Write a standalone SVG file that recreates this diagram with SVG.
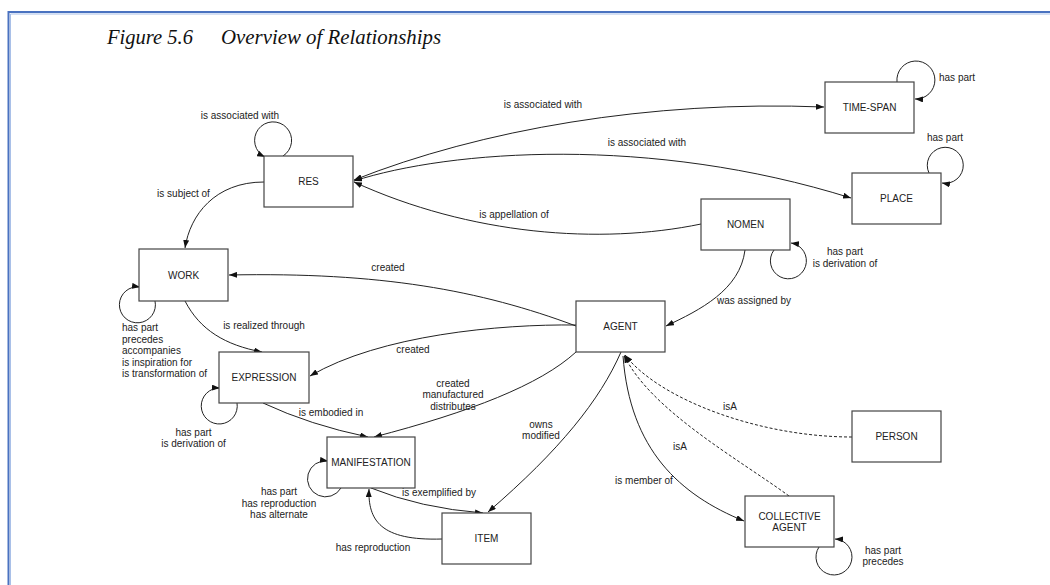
<svg xmlns="http://www.w3.org/2000/svg" width="1050" height="585" viewBox="0 0 1050 585">
<style>
.box{fill:#fff;stroke:#444;stroke-width:1.2}
.nt{font-family:"Liberation Sans",Arial,sans-serif;font-size:10px;fill:#222;text-anchor:middle}
.lb{font-family:"Liberation Sans",Arial,sans-serif;font-size:10px;fill:#222}
.m{text-anchor:middle}
.c{fill:none;stroke:#222;stroke-width:1}
.d{fill:none;stroke:#222;stroke-width:1;stroke-dasharray:3,2}
.title{font-family:"Liberation Serif","Times New Roman",serif;font-style:italic;font-size:22px;fill:#111}
</style>
<defs>
<marker id="arr" viewBox="0 0 8 6" refX="8" refY="3" markerWidth="8" markerHeight="6" markerUnits="userSpaceOnUse" orient="auto-start-reverse">
<path d="M0,0 L8,3 L0,6 z" fill="#111"/>
</marker>
</defs>
<rect width="1050" height="585" fill="#fff"/>
<g id="frame">
<path d="M8.5,585 V12 H1050" fill="none" stroke="#4a72c0" stroke-width="2"/>
<path d="M10.5,585 V14 H1050" fill="none" stroke="#a9c0e8" stroke-width="1"/>
</g>
<text class="title" x="107" y="44"><tspan x="107" textLength="86" lengthAdjust="spacingAndGlyphs">Figure 5.6</tspan><tspan x="221" textLength="220" lengthAdjust="spacingAndGlyphs">Overview of  Relationships</tspan></text>

<g id="connectors">
<!-- self loops -->
<path class="c" d="M283,156 A18.5,18.5 0 1 0 265,157" marker-end="url(#arr)"/>
<path class="c" d="M897,82 A19,19 0 1 1 915,99" marker-end="url(#arr)"/>
<path class="c" d="M929,173 A18,18 0 1 1 942,183" marker-end="url(#arr)"/>
<path class="c" d="M774,250 A18,18 0 1 0 791,243" marker-end="url(#arr)"/>
<path class="c" d="M155,301 A18,18 0 1 1 140,287" marker-end="url(#arr)"/>
<path class="c" d="M237,403 A18,18 0 1 1 220,388" marker-end="url(#arr)"/>
<path class="c" d="M341,488 A18,18 0 1 1 328,461" marker-end="url(#arr)"/>
<path class="c" d="M819,547 A18,18 0 1 0 835,539" marker-end="url(#arr)"/>
<!-- RES relations -->
<path class="c" d="M354,180 C480,130 650,100 824,107" marker-start="url(#arr)" marker-end="url(#arr)"/>
<path class="c" d="M354,181 C450,150 650,135 851,198" marker-start="url(#arr)" marker-end="url(#arr)"/>
<path class="c" d="M701,224 C600,245 470,235 354,182" marker-end="url(#arr)"/>
<path class="c" d="M264,182 C215,182 190,215 185,248" marker-end="url(#arr)"/>
<!-- AGENT relations -->
<path class="c" d="M576,326 C480,290 380,272 229,275" marker-end="url(#arr)"/>
<path class="c" d="M576,325 C500,324 380,335 310,376" marker-end="url(#arr)"/>
<path class="c" d="M576,352 C540,385 470,412 374,437" marker-end="url(#arr)"/>
<path class="c" d="M621,352 C600,400 560,450 488,512" marker-end="url(#arr)"/>
<path class="c" d="M745,250 C740,290 700,310 666,326" marker-end="url(#arr)"/>
<path class="c" d="M623,356 C630,450 680,495 744,521" marker-end="url(#arr)"/>
<path class="d" d="M789,496 C740,460 650,410 624,355" marker-end="url(#arr)"/>
<path class="d" d="M852,437 C760,437 660,400 625,355" marker-end="url(#arr)"/>
<!-- WEMI -->
<path class="c" d="M185,301 C200,330 225,345 262,352" marker-end="url(#arr)"/>
<path class="c" d="M263,403 Q310,425 368,437" marker-end="url(#arr)"/>
<path class="c" d="M371,488 Q420,508 483,513" marker-end="url(#arr)"/>
<path class="c" d="M442,539 C380,541 368,520 369,489" marker-end="url(#arr)"/>

<!-- labels -->
<text class="lb m" x="240" y="119">is associated with</text>
<text class="lb m" x="543" y="108">is associated with</text>
<text class="lb" x="939" y="81">has part</text>
<text class="lb m" x="647" y="146">is associated with</text>
<text class="lb m" x="945" y="141">has part</text>
<text class="lb m" x="514" y="218">is appellation of</text>
<text class="lb m" x="183.5" y="197">is subject of</text>
<text class="lb m" x="845" y="255">has part</text>
<text class="lb m" x="845" y="267">is derivation of</text>
<text class="lb m" x="388" y="271">created</text>
<text class="lb m" x="754" y="304">was assigned by</text>
<text class="lb m" x="264" y="329">is realized through</text>
<text class="lb m" x="413" y="353">created</text>
<text class="lb" x="122" y="331">has part</text>
<text class="lb" x="122" y="342.5">precedes</text>
<text class="lb" x="122" y="354">accompanies</text>
<text class="lb" x="122" y="365.5">is inspiration for</text>
<text class="lb" x="122" y="377">is transformation of</text>
<text class="lb m" x="453" y="386.5">created</text>
<text class="lb m" x="453" y="398">manufactured</text>
<text class="lb m" x="453" y="409.5">distributes</text>
<text class="lb m" x="730" y="409.5">isA</text>
<text class="lb m" x="331" y="415.5">is embodied in</text>
<text class="lb m" x="541" y="427.5">owns</text>
<text class="lb m" x="541" y="439">modified</text>
<text class="lb m" x="193.5" y="436">has part</text>
<text class="lb m" x="193.5" y="447">is derivation of</text>
<text class="lb m" x="680" y="450">isA</text>
<text class="lb m" x="644" y="483.5">is member of</text>
<text class="lb m" x="439" y="496">is exemplified by</text>
<text class="lb m" x="279" y="495">has part</text>
<text class="lb m" x="279" y="506.5">has reproduction</text>
<text class="lb m" x="279" y="518">has alternate</text>
<text class="lb m" x="373" y="551">has reproduction</text>
<text class="lb m" x="883" y="554">has part</text>
<text class="lb m" x="883" y="565">precedes</text>
</g>

<g id="RES"><rect class="box" x="264" y="156" width="89" height="51"/><text class="nt" x="308.5" y="185">RES</text></g>
<g id="TIME-SPAN"><rect class="box" x="825" y="82" width="89" height="51"/><text class="nt" x="869.5" y="111">TIME-SPAN</text></g>
<g id="PLACE"><rect class="box" x="852" y="173" width="89" height="51"/><text class="nt" x="896.5" y="202">PLACE</text></g>
<g id="NOMEN"><rect class="box" x="701" y="199" width="89" height="51"/><text class="nt" x="745.5" y="228">NOMEN</text></g>
<g id="WORK"><rect class="box" x="139" y="249" width="89" height="52"/><text class="nt" x="183.5" y="278.5">WORK</text></g>
<g id="AGENT"><rect class="box" x="576" y="301" width="89" height="51"/><text class="nt" x="620.5" y="330">AGENT</text></g>
<g id="EXPRESSION"><rect class="box" x="219" y="352" width="90" height="51"/><text class="nt" x="264" y="381">EXPRESSION</text></g>
<g id="MANIFESTATION"><rect class="box" x="327" y="437" width="88" height="51"/><text class="nt" x="371" y="466">MANIFESTATION</text></g>
<g id="ITEM"><rect class="box" x="442" y="513" width="89" height="51"/><text class="nt" x="486.5" y="542">ITEM</text></g>
<g id="PERSON"><rect class="box" x="852" y="411" width="89" height="51"/><text class="nt" x="896.5" y="440">PERSON</text></g>
<g id="COLLECTIVE-AGENT"><rect class="box" x="745" y="496" width="89" height="51"/><text class="nt" x="789.5" y="519.5">COLLECTIVE</text><text class="nt" x="789.5" y="530.5">AGENT</text></g>
</svg>
